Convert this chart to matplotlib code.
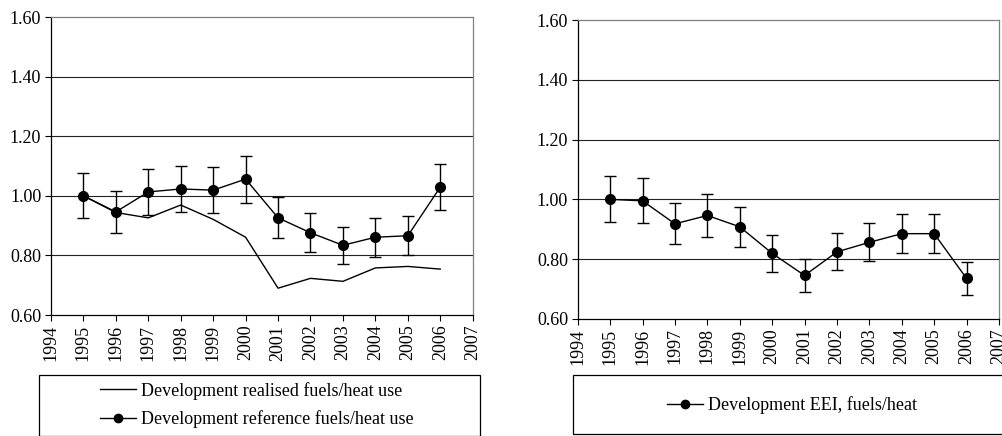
import matplotlib.pyplot as plt
from matplotlib.lines import Line2D
from matplotlib.patches import Rectangle

plt.rcParams['font.family'] = ['Liberation Serif', 'DejaVu Serif']

years = [1995, 1996, 1997, 1998, 1999, 2000, 2001, 2002, 2003, 2004, 2005, 2006]

# left panel: realised vs. reference fuels/heat use
realised = [1.000, 0.944, 0.926, 0.969, 0.921, 0.861, 0.690, 0.723, 0.713, 0.758, 0.763, 0.754]
reference = [1.000, 0.946, 1.013, 1.023, 1.019, 1.056, 0.926, 0.876, 0.834, 0.861, 0.866, 1.029]
reference_err = [0.075, 0.071, 0.076, 0.077, 0.076, 0.079, 0.069, 0.066, 0.063, 0.065, 0.065, 0.077]

# right panel: EEI fuels/heat
eei = [1.000, 0.995, 0.918, 0.946, 0.908, 0.819, 0.745, 0.824, 0.856, 0.885, 0.885, 0.735]
eei_err = [0.077, 0.075, 0.069, 0.071, 0.068, 0.061, 0.056, 0.062, 0.064, 0.066, 0.066, 0.056]

x_ticks = list(range(1994, 2008))
y_ticks = [0.60, 0.80, 1.00, 1.20, 1.40, 1.60]

fig = plt.figure(figsize=(10.03, 4.36), dpi=100)
ax1 = fig.add_axes([0.0508, 0.2775, 0.4205, 0.6835])
ax2 = fig.add_axes([0.576, 0.269, 0.420, 0.6844])


def style_axes(ax):
    ax.set_xlim(1994, 2007)
    ax.set_ylim(0.6, 1.6)
    ax.set_xticks(x_ticks)
    ax.set_xticklabels([str(y) for y in x_ticks], rotation=90, fontsize=13)
    ax.set_yticks(y_ticks)
    ax.set_yticklabels([f"{v:.2f}" for v in y_ticks], fontsize=13)
    ax.tick_params(direction='out', length=4, width=0.8, color='black', pad=3)
    for v in y_ticks[1:-1]:
        ax.axhline(v, color='#222222', lw=0.8, zorder=1)
    ax.spines['left'].set_color('black')
    ax.spines['bottom'].set_color('black')
    ax.spines['top'].set_color('#808080')
    ax.spines['right'].set_color('#808080')
    for s in ax.spines.values():
        s.set_linewidth(0.9)


ax1.plot(years, realised, color='black', lw=1.0, zorder=3)
ax1.errorbar(years, reference, yerr=reference_err, color='black', lw=1.0,
             marker='o', markersize=7, capsize=4.5, elinewidth=1.0,
             capthick=1.0, zorder=4)
style_axes(ax1)

ax2.errorbar(years, eei, yerr=eei_err, color='black', lw=1.0,
             marker='o', markersize=7, capsize=4.5, elinewidth=1.0,
             capthick=1.0, zorder=4)
style_axes(ax2)

# legend boxes below each panel
W, H = 1003, 436
fig.patches.append(Rectangle((39 / W, 0.0), 441 / W, 1 - 375 / H,
                             transform=fig.transFigure, fill=False,
                             edgecolor='black', lw=0.9))
fig.patches.append(Rectangle((573 / W, 1 - 434 / H), 430 / W, 59 / H,
                             transform=fig.transFigure, fill=False,
                             edgecolor='black', lw=0.9))

h_real = Line2D([], [], color='black', lw=1.0)
h_ref = Line2D([], [], color='black', lw=1.0, marker='o', markersize=6)
fig.legend([h_real, h_ref],
           ['Development realised fuels/heat use', 'Development reference fuels/heat use'],
           loc='center', bbox_to_anchor=(257 / W, 1 - 405 / H), frameon=False,
           fontsize=13, handlelength=2.0, handletextpad=0.3, labelspacing=0.6)
fig.legend([h_ref], ['Development EEI, fuels/heat'],
           loc='center', bbox_to_anchor=(792 / W, 1 - 405 / H), frameon=False,
           fontsize=13, handlelength=2.0, handletextpad=0.3)

fig.savefig('out.png', dpi=100)
